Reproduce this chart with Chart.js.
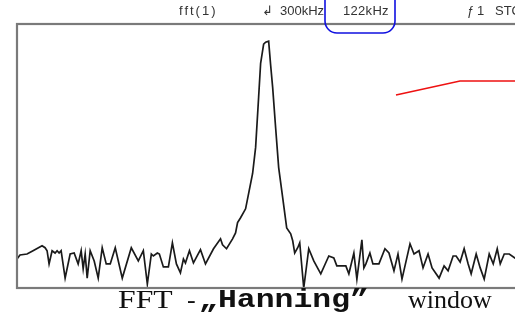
<!DOCTYPE html>
<html>
<head>
<meta charset="utf-8">
<script src="https://cdn.jsdelivr.net/npm/chart.js@4"></script>
<style>
html,body{margin:0;padding:0;background:#fff;overflow:hidden;width:515px;height:325px;}
#wrap{position:absolute;left:0;top:0;width:560px;height:300px;}
.top{position:absolute;top:3px;font-family:"Liberation Sans",Arial,sans-serif;font-size:13px;color:#333;white-space:nowrap;}
.cap{position:absolute;top:285px;white-space:nowrap;font-family:"Liberation Serif","Times New Roman",serif;font-size:26px;color:#111;line-height:30px;transform-origin:0 0;}
.mono{font-family:"Liberation Mono","Courier New",monospace;font-weight:bold;}
svg{position:absolute;left:0;top:0;}
</style>
</head>
<body>
<div id="wrap"><canvas id="fftChart" width="560" height="300"></canvas></div>

<span class="top" style="left:179px;letter-spacing:2px">fft(1)</span>
<span class="top" style="left:262px">&#8626;</span>
<span class="top" style="left:280px">300kHz</span>
<span class="top" style="left:343px;letter-spacing:0.3px">122kHz</span>
<span class="top" style="left:467px">&#402;</span>
<span class="top" style="left:477px">1</span>
<span class="top" style="left:495px">STOP</span>

<svg width="515" height="325">
<rect x="325" y="-14" width="70" height="47" rx="12" ry="12" fill="none" stroke="#1010e0" stroke-width="1.6"/>
<polyline points="396,95 460,81 520,81" fill="none" stroke="#ee1111" stroke-width="1.6"/>
</svg>

<span class="cap" style="left:118px;transform:scaleX(1.22)">FFT</span>
<span class="cap" style="left:187px">-</span>
<span class="cap mono" style="left:199px;transform:scaleX(1.21)">„Hanning”</span>
<span class="cap" style="left:408px">window</span>

<script>
// frequency (kHz) and magnitude (dB)
const freq=[0,1.8,6.0,9.6,15.0,16.8,18.0,19.2,21.0,22.8,24.0,25.2,26.4,28.8,31.8,34.2,36.6,38.4,39.6,40.8,
42.0,43.8,46.2,48.6,51.0,53.4,55.8,58.8,63.0,68.4,72.6,75.6,78.0,80.4,81.6,84.0,85.2,87.6,90.6,93.0,
95.4,97.8,99.6,100.8,103.2,105.6,109.8,112.8,117.6,121.8,123.0,125.4,129.0,130.8,132.0,133.8,136.8,138.6,141.0,142.8,
144.6,145.8,147.6,148.8,150.6,151.8,153.0,154.8,156.6,159.0,161.4,163.8,165.0,166.2,168.0,169.2,171.6,174.6,177.6,181.8,
186.6,189.6,191.4,196.8,198.6,201.6,203.4,206.4,207.6,208.8,211.2,213.0,216.6,220.2,222.6,225.6,228.0,230.4,235.2,237.6,
240.6,243.0,246.0,248.4,252.6,255.6,258.0,261.0,262.8,265.2,267.6,270.0,271.8,274.8,277.2,279.6,282.6,285.0,287.4,289.2,
291.6,294.6,298.8,301.8,305.4,310.0];
const magDb=[-71.2,-70.0,-69.7,-68.7,-67.2,-67.8,-68.7,-72.7,-68.7,-69.4,-68.7,-69.4,-68.7,-77.0,-69.7,-69.4,-72.7,-68.7,-74.2,-69.7,
-77.0,-68.7,-71.8,-77.0,-67.8,-72.7,-72.7,-67.8,-77.0,-67.8,-71.8,-68.7,-78.8,-69.7,-70.3,-69.4,-69.7,-73.6,-73.6,-66.3,
-72.7,-75.4,-71.2,-72.4,-68.7,-72.4,-68.4,-72.7,-68.1,-65.1,-66.9,-68.1,-65.1,-63.3,-60.2,-58.7,-56.0,-51.4,-45.3,-37.4,
-22.2,-11.9,-6.1,-5.5,-5.2,-12.5,-19.2,-31.6,-43.5,-52.6,-61.8,-63.6,-65.7,-69.4,-67.8,-66.3,-80.0,-68.1,-71.8,-75.7,
-70.3,-70.9,-73.3,-73.3,-75.7,-69.4,-77.3,-65.4,-73.9,-72.7,-69.4,-72.7,-72.7,-68.1,-69.4,-74.8,-69.7,-77.3,-66.6,-69.7,
-68.7,-73.9,-69.7,-73.9,-77.0,-73.3,-74.8,-70.3,-70.3,-72.1,-68.1,-72.7,-75.7,-69.7,-73.9,-77.3,-69.7,-72.7,-68.1,-72.7,
-69.7,-69.7,-71.2,-72.0,-69.5,-70.5];

const points=freq.map((f,i)=>({x:f,y:magDb[i]}));

const framePlugin={
id:'frame',
afterDraw(chart){
const a=chart.chartArea;
const ctx=chart.ctx;
ctx.save();
ctx.strokeStyle='#7a7a7a';
ctx.lineWidth=2.2;
ctx.strokeRect(a.left,a.top,a.right-a.left,a.bottom-a.top);
ctx.restore();
}
};

const fftChart=new Chart(
document.getElementById('fftChart'),
{
type:'line',
data:{
datasets:[{
label:'fft(1)',
data:points,
borderColor:'#1a1a1a',
borderWidth:1.7,
pointRadius:0,
tension:0,
fill:false
}]
},
options:{
responsive:false,
animation:false,
layout:{padding:{left:17,top:24,right:25,bottom:12}},
plugins:{legend:{display:false},tooltip:{enabled:false}},
scales:{
x:{type:'linear',min:0,max:310,display:false},
y:{min:-80,max:0,display:false}
}
},
plugins:[framePlugin]
}
);
</script>
</body>
</html>
